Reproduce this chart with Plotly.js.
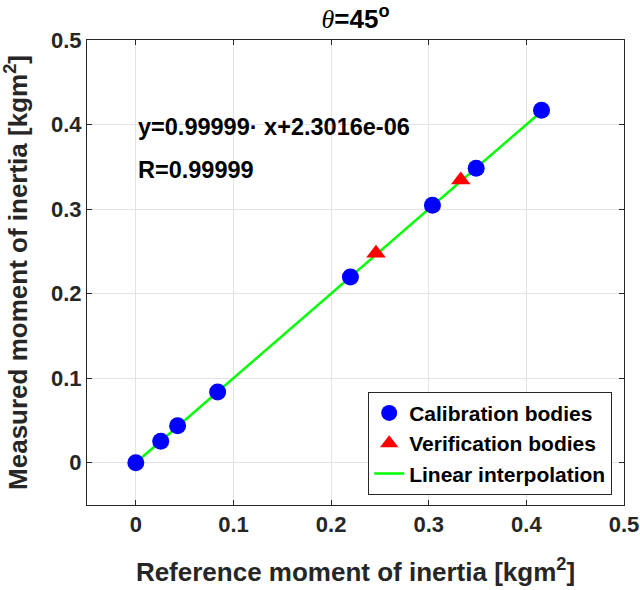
<!DOCTYPE html>
<html>
<head>
<meta charset="utf-8">
<script src="https://cdn.plot.ly/plotly-3.0.1.min.js"></script>
<style>html,body{margin:0;padding:0;background:#fff;}#chart{width:640px;height:590px;}</style>
</head>
<body>
<div id="chart"></div>
<script>
// Data
const calibRef = [0, 0.0255, 0.0428, 0.0838, 0.2198, 0.3038, 0.3486, 0.4155];
const calibMeas = [0, 0.0253, 0.0437, 0.0837, 0.2196, 0.3046, 0.3484, 0.4170];
const verifRef = [0.2460, 0.3328];
const verifMeas = [0.2478, 0.3344];
const slope = 0.99999;
const intercept = 2.3016e-06;
const fitX = [0, 0.4155];
const fitY = fitX.map(v => slope * v + intercept);
const tickVals = [0, 0.1, 0.2, 0.3, 0.4, 0.5];
const tickText = ['0', '0.1', '0.2', '0.3', '0.4', '0.5'];
const eqText = 'y=0.99999· x+2.3016e-06';
const rText = 'R=0.99999';

const FONT = 'Liberation Sans, Arial, Helvetica, sans-serif';

const lineTrace = {x: fitX, y: fitY, mode: 'lines', type: 'scatter', name: 'Linear interpolation',
   line: {color: '#00ff00', width: 2.5}, legendrank: 3};
const calibTrace = {x: calibRef, y: calibMeas, mode: 'markers', type: 'scatter', name: 'Calibration bodies',
   marker: {color: '#0000ff', size: 17, symbol: 'circle'}, legendrank: 1};
const verifTrace = {x: verifRef, y: verifMeas, mode: 'markers', type: 'scatter', name: 'Verification bodies',
   marker: {color: '#ff0000', size: 17, symbol: 'triangle-up'}, legendrank: 2};

const axisCommon = {
  range: [-0.05, 0.5], tickvals: tickVals, ticktext: tickText,
  showgrid: true, gridcolor: '#e3e3e3', gridwidth: 1,
  zeroline: false, showline: true, linecolor: '#262626', linewidth: 1, mirror: 'ticks',
  ticks: 'inside', ticklen: 5, tickcolor: '#262626', automargin: false,
  tickfont: {family: FONT, size: 22, color: '#262626', weight: 'bold'}
};

const layout = {
  width: 640, height: 590,
  margin: {l: 87, r: 16, t: 40, b: 85},
  paper_bgcolor: '#ffffff', plot_bgcolor: '#ffffff',
  showlegend: true,
  title: {text: '<span style="font-family:Liberation Serif, Times New Roman, serif;font-weight:normal"><i>θ</i></span><b>=45<sup>o</sup></b>',
          font: {family: FONT, size: 26, color: '#000000', weight: 'bold'}, x: 0.5, xref: 'paper', xanchor: 'center', y: 0.968, yanchor: 'middle'},
  xaxis: Object.assign({}, axisCommon, {
    title: {text: '<b>Reference moment of inertia [kgm<sup>2</sup>]</b>', font: {family: FONT, size: 26, color: '#262626'}, standoff: 26}
  }),
  yaxis: Object.assign({}, axisCommon, {
    title: {text: '<b>Measured moment of inertia [kgm<sup>2</sup>]</b>', font: {family: FONT, size: 26, color: '#262626'}, standoff: 16}
  }),
  legend: {
    x: 0.978, y: 0.022, xanchor: 'right', yanchor: 'bottom',
    bgcolor: '#ffffff', bordercolor: '#262626', borderwidth: 1,
    font: {family: FONT, size: 21, color: '#000000', weight: 'bold'},
    traceorder: 'normal', itemwidth: 30, tracegroupgap: 0
  },
  annotations: [
    {x: 0.0005, y: 0.397, xref: 'x', yref: 'y', text: '<b>' + eqText + '</b>', showarrow: false,
     xanchor: 'left', yanchor: 'middle', font: {family: FONT, size: 23.5, color: '#000000'}},
    {x: 0.0005, y: 0.346, xref: 'x', yref: 'y', text: '<b>' + rText + '</b>', showarrow: false,
     xanchor: 'left', yanchor: 'middle', font: {family: FONT, size: 23.5, color: '#000000'}}
  ]
};

Plotly.newPlot('chart', [lineTrace, calibTrace, verifTrace], layout, {displayModeBar: false, staticPlot: true});
</script>
</body>
</html>
